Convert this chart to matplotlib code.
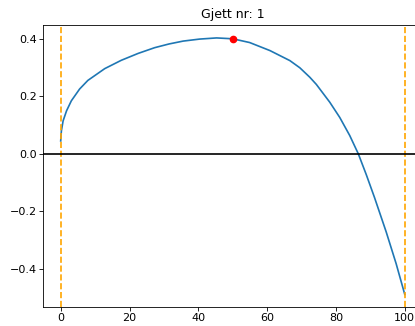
import matplotlib
matplotlib.use("Agg")
import matplotlib.pyplot as plt

# Curve values
x_vals = [0, 0.2, 0.7, 1.7, 3.1, 5.5, 7.9, 12.8, 17.6, 22.5, 27.3, 31.5, 35.6, 40.4,
          45.3, 50.0, 54.9, 60.8, 66.6, 69.5, 72.4, 74.3, 78.2, 81.1, 84.0, 86.5,
          88.8, 91.2, 94.6, 97.5, 100.0]
y_vals = [0.045, 0.080, 0.115, 0.150, 0.185, 0.226, 0.256, 0.297, 0.326, 0.350, 0.370, 0.383,
          0.393, 0.400, 0.404, 0.401, 0.388, 0.360, 0.325, 0.300, 0.267, 0.242, 0.180,
          0.127, 0.064, 0.000, -0.072, -0.152, -0.272, -0.383, -0.490]
guess_x = [50]
guess_y = [0.401]
bounds = [0, 100]
title = "Gjett nr: 1"

fig = plt.figure(figsize=(4.15, 3.26), dpi=100)
ax = fig.add_axes([0.1048, 0.0574, 0.912, 0.8656])
ax.plot(x_vals, y_vals, color="#1f77b4", lw=1.2)
ax.plot(guess_x, guess_y, "o", color="red", markersize=4.5)
for b in bounds:
    ax.axvline(b, color="orange", linestyle="--", lw=1.2)
ax.axhline(0, color="black", lw=1.2)
ax.set_xticks([0, 20, 40, 60, 80, 100])
ax.set_yticks([-0.4, -0.2, 0.0, 0.2, 0.4])
ax.tick_params(labelsize=8, length=2.8, width=0.6, pad=2.0)
ax.tick_params(axis="x", pad=1.6)
for s in ax.spines.values():
    s.set_linewidth(0.6)
ax.set_title(title, fontsize=9, pad=5)
fig.savefig("out.png", dpi=100)
